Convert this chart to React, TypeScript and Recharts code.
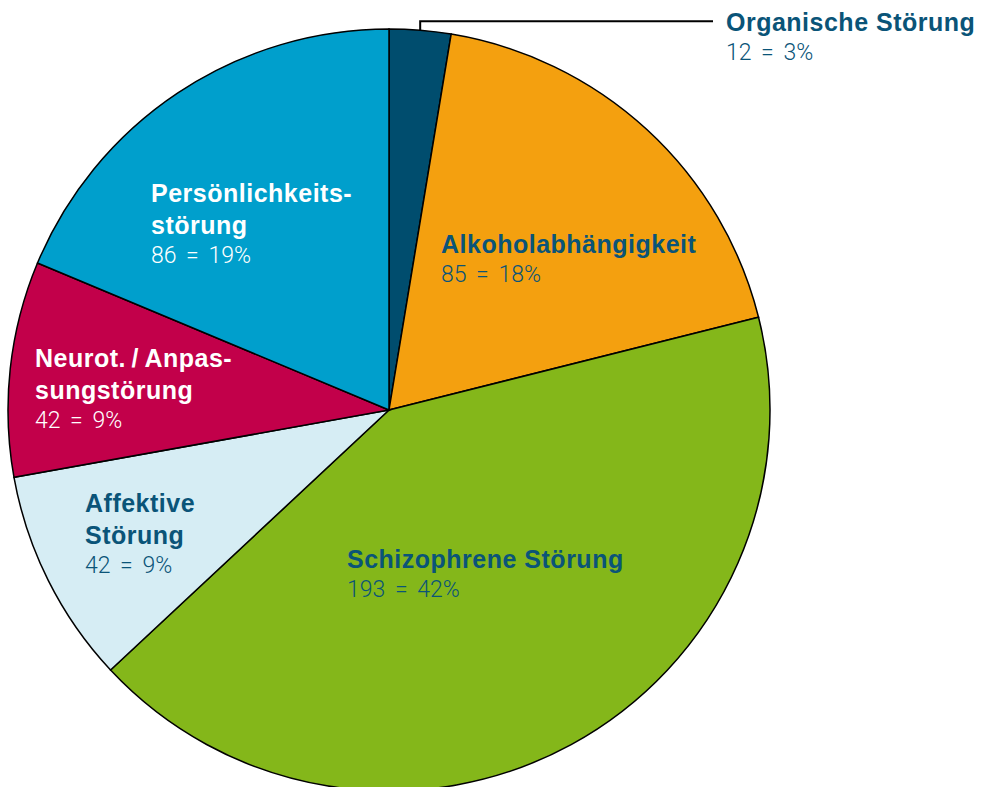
import { PieChart, Pie, Cell } from 'recharts'

const categories = [
  'Organische Störung',
  'Alkoholabhängigkeit',
  'Schizophrene Störung',
  'Affektive Störung',
  'Neurot. / Anpassungsstörung',
  'Persönlichkeitsstörung',
]

const values = [12, 85, 193, 42, 42, 86]

const labelLines = [
  ['Organische Störung'],
  ['Alkoholabhängigkeit'],
  ['Schizophrene Störung'],
  ['Affektive', 'Störung'],
  ['Neurot.\u2009/\u2009Anpas-', 'sungstörung'],
  ['Persönlichkeits-', 'störung'],
]

const COLORS = ['#004D6E', '#F4A00F', '#84B71A', '#D6EDF4', '#C2004A', '#009FCC']
const TEXT_COLORS = ['#0A5478', '#0A5478', '#0A5478', '#0A5478', '#FFFFFF', '#FFFFFF']

// label anchor relative to pie centre (first baseline)
const LABEL_OFFSETS = [
  { dx: 337, dy: -379 },
  { dx: 52, dy: -157 },
  { dx: -42, dy: 158 },
  { dx: -304, dy: 102 },
  { dx: -354, dy: -43 },
  { dx: -238, dy: -208 },
]

const total = values.reduce((a, b) => a + b, 0)
const data = categories.map((name, i) => ({ name, value: values[i] }))

const RADIAN = Math.PI / 180
const FONT = '"Liberation Sans", Arial, sans-serif'

interface LabelProps {
  cx: number
  cy: number
  midAngle: number
  outerRadius: number
  index: number
  value: number
}

const renderLabel = ({ cx, cy, midAngle, outerRadius, index, value }: LabelProps) => {
  const off = LABEL_OFFSETS[index]
  const x = cx + off.dx
  const y = cy + off.dy
  const lines = labelLines[index]
  const color = TEXT_COLORS[index]
  const pct = Math.round((value / total) * 100)
  let leader = null
  if (index === 0) {
    const ex = cx + outerRadius * Math.cos(-midAngle * RADIAN)
    const ey = cy + outerRadius * Math.sin(-midAngle * RADIAN)
    leader = (
      <polyline
        points={`${ex},${ey} ${ex},${ey - 9} ${x - 13},${ey - 9}`}
        fill='none'
        stroke='#000'
        strokeWidth={2}
      />
    )
  }
  return (
    <g key={`label-${index}`}>
      {leader}
      <text
        x={x}
        y={y}
        fill={color}
        fontFamily={FONT}
        fontSize={25}
        fontWeight={700}
        letterSpacing={0.5}
      >
        {lines.map((l, i) => (
          <tspan key={i} x={x} dy={i === 0 ? 0 : 32}>
            {l}
          </tspan>
        ))}
      </text>
      <text
        x={x}
        y={y + (lines.length - 1) * 32 + 29}
        fill={color}
        fontFamily='Roboto, "Liberation Sans", sans-serif'
        fontSize={23}
        fontWeight={300}
        wordSpacing={4}
      >
        {`${value} = ${pct}%`}
      </text>
    </g>
  )
}

export default function App() {
  return (
    <div style={{ position: 'absolute', left: 0, top: 0, width: 982, height: 787, background: '#fff' }}>
      <PieChart width={982} height={787} margin={{ top: 0, right: 0, bottom: 0, left: 0 }}>
        <Pie
          data={data}
          dataKey='value'
          cx={389}
          cy={410}
          outerRadius={381}
          startAngle={90}
          endAngle={-270}
          stroke='#000'
          strokeWidth={1.5}
          label={renderLabel}
          labelLine={false}
          isAnimationActive={false}
        >
          {data.map((entry, index) => (
            <Cell key={`cell-${entry.name}`} fill={COLORS[index]} />
          ))}
        </Pie>
      </PieChart>
    </div>
  )
}
